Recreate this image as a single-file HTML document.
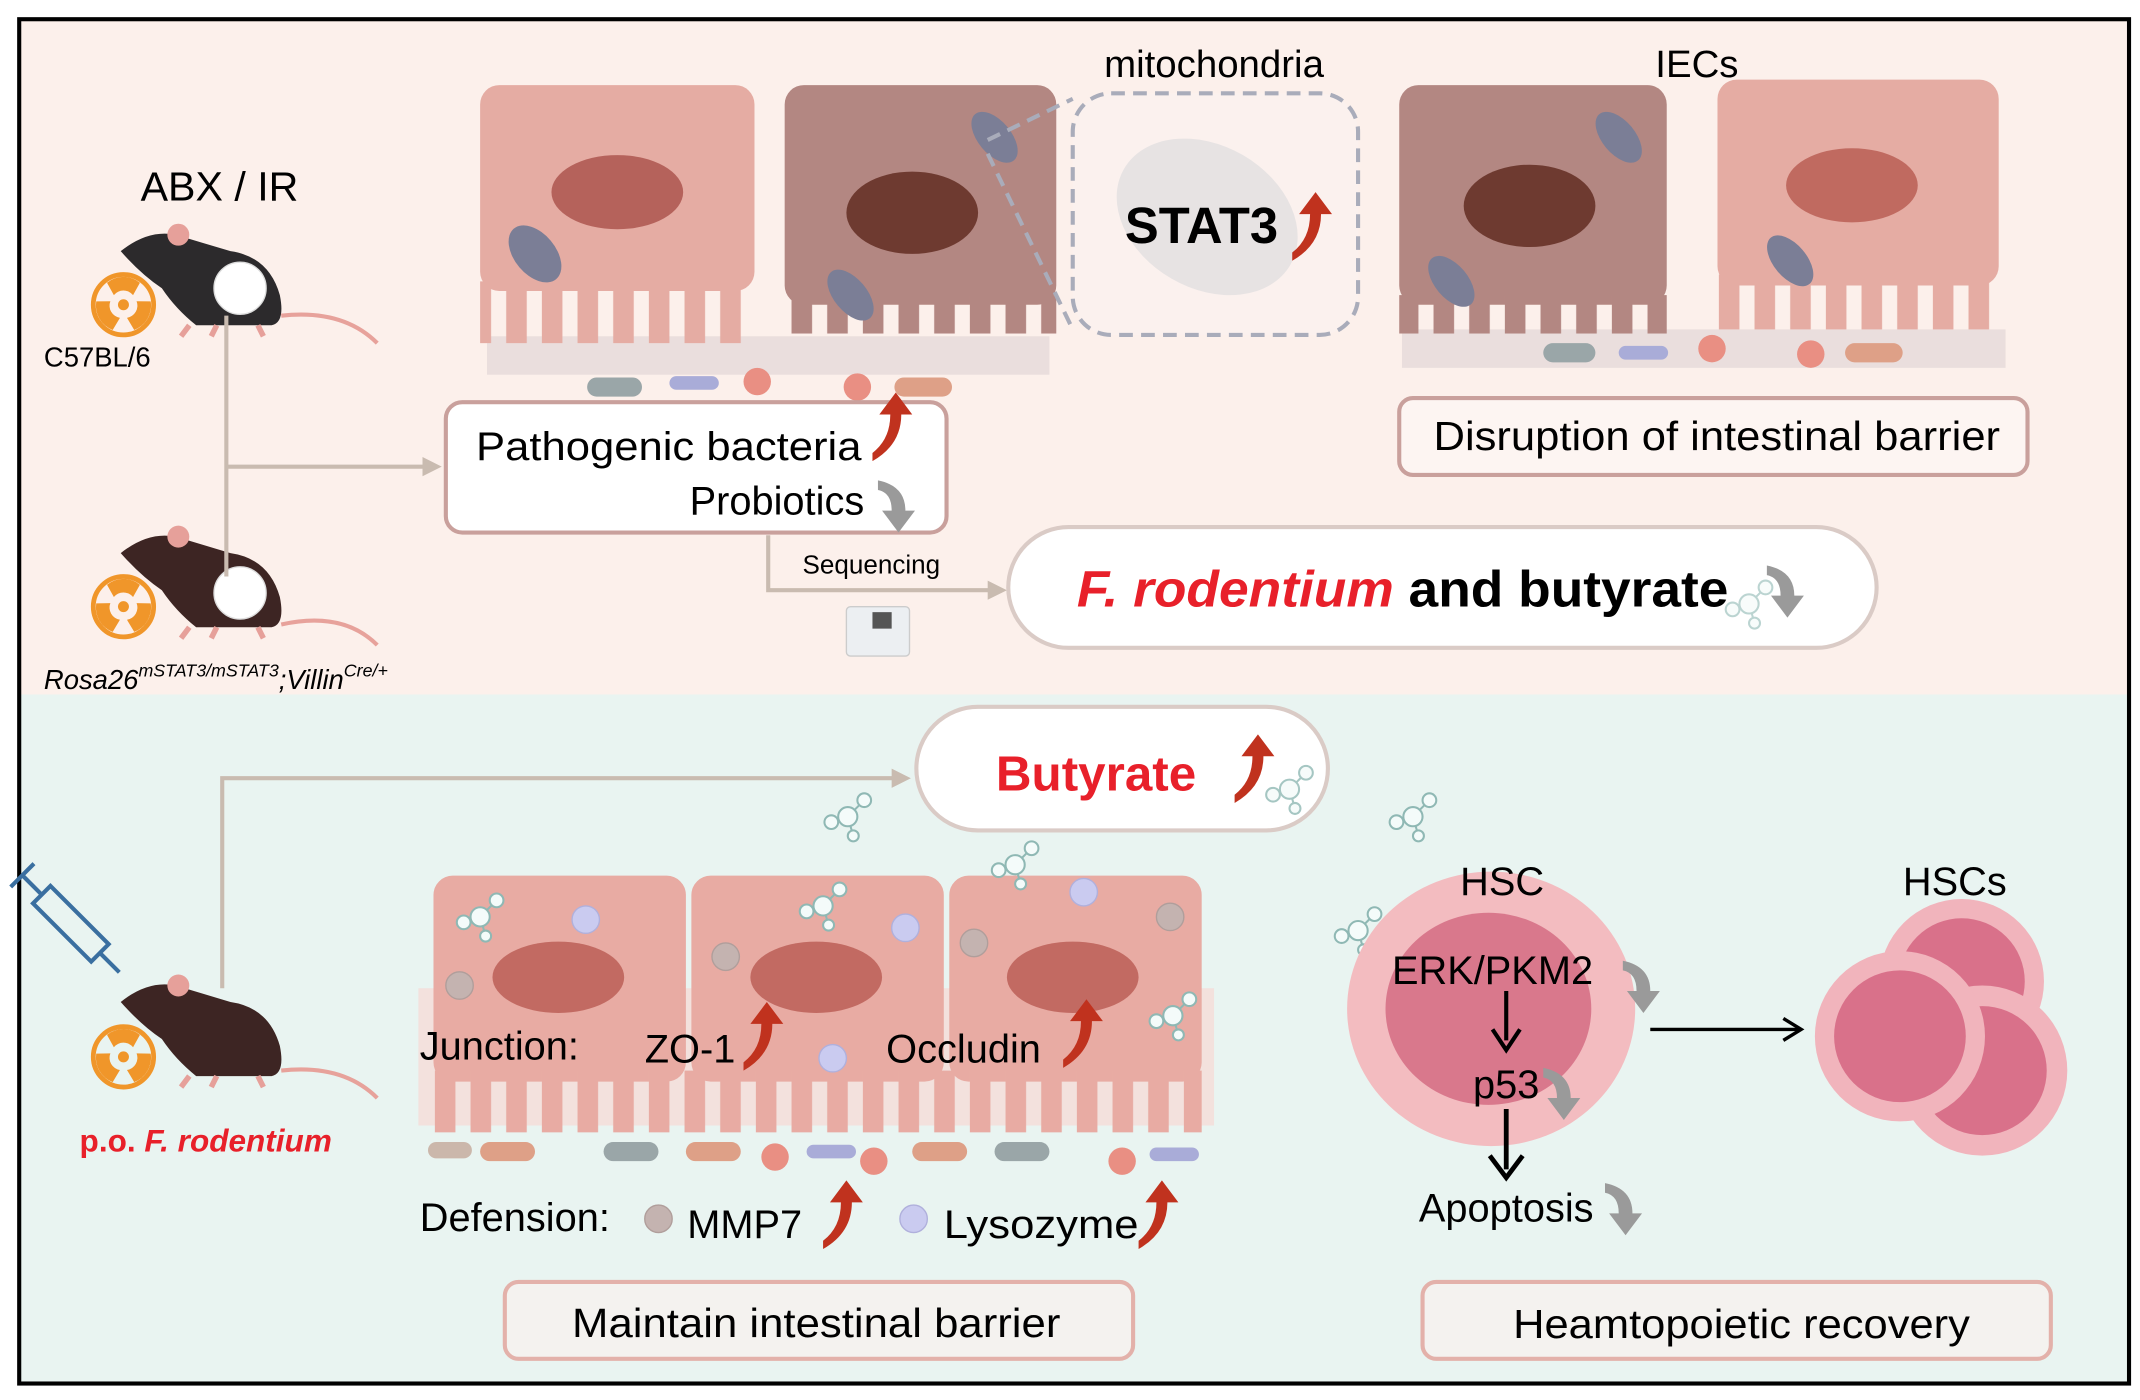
<!DOCTYPE html>
<html><head><meta charset="utf-8"><style>
html,body{margin:0;padding:0;background:#fff;}
svg{display:block;}
text{font-family:"Liberation Sans",Arial,sans-serif;}
</style></head><body>
<svg width="2140" height="1400" viewBox="0 0 1560 1020" preserveAspectRatio="none" xmlns="http://www.w3.org/2000/svg">
<defs>
<pattern id="vp" x="0" y="0" width="26" height="2000" patternUnits="userSpaceOnUse"><rect x="5" y="0" width="15" height="2000" fill="#e5aca3"/></pattern>
<pattern id="vb" x="0" y="0" width="26" height="2000" patternUnits="userSpaceOnUse"><rect x="5" y="0" width="15" height="2000" fill="#b38782"/></pattern>
<pattern id="vq" x="0" y="0" width="26" height="2000" patternUnits="userSpaceOnUse"><rect x="5" y="0" width="15" height="2000" fill="#e8aba3"/></pattern>
<g id="ru"><path d="M0,34 Q13,24 13,6 L5,6 L17,-10 L29,6 L21,6 Q21,28 0,40 Z" fill="#c0321e"/></g>
<g id="gd"><path d="M0,0 Q20,4 20,22 L27,22 L15,38 L3,22 L10,22 Q10,9 0,7 Z" fill="#9a9a9a"/></g>
<g id="rad"><circle r="22" fill="none" stroke="#f0962a" stroke-width="3.5"/><circle r="4" fill="#f0962a"/>
<path d="M-7,-7 L-12,-16 A19,19 0 0 1 12,-16 L7,-7 A9,9 0 0 0 -7,-7Z" fill="#f0962a"/>
<path d="M-7,-7 L-12,-16 A19,19 0 0 1 12,-16 L7,-7 A9,9 0 0 0 -7,-7Z" fill="#f0962a" transform="rotate(120)"/>
<path d="M-7,-7 L-12,-16 A19,19 0 0 1 12,-16 L7,-7 A9,9 0 0 0 -7,-7Z" fill="#f0962a" transform="rotate(240)"/></g>
<g id="mol" fill="#f4fbfa" stroke="#8fb8b4" stroke-width="1.5"><line x1="0" y1="0" x2="12" y2="-12"/><line x1="0" y1="0" x2="-12" y2="4"/><line x1="0" y1="0" x2="4" y2="14"/><circle r="7"/><circle cx="12" cy="-12" r="5"/><circle cx="-12" cy="4" r="5"/><circle cx="4" cy="14" r="4"/></g>
<g id="mouse"><path d="M0,18 Q20,2 40,6 Q60,12 80,18 Q108,22 116,50 Q120,70 110,72 L55,72 Q40,60 30,45 Q15,35 0,18Z"/><circle cx="42" cy="6" r="8" fill="#e6a09a"/><path d="M50,72 l-6,8 M70,72 l-4,8 M100,72 l4,8" stroke="#e6a09a" stroke-width="4"/></g>
</defs>
<rect x="0" y="0" width="1560" height="1020" fill="#fff"/>
<rect x="14" y="14" width="1538" height="492" fill="#fcf0eb"/>
<rect x="14" y="506" width="1538" height="502" fill="#e9f4f1"/>
<rect x="14" y="14" width="1538" height="994" fill="none" stroke="#000" stroke-width="3"/>

<!-- top cells -->
<rect x="355" y="245" width="410" height="28" fill="#ddd2d4" opacity="0.6"/>
<rect x="1022" y="240" width="440" height="28" fill="#ddd2d4" opacity="0.6"/>
<rect x="350" y="62" width="200" height="150" rx="14" fill="#e5aca3"/>
<rect x="350" y="205" width="200" height="45" fill="url(#vp)"/>
<ellipse cx="450" cy="140" rx="48" ry="27" fill="#b5625b"/>
<ellipse cx="390" cy="185" rx="15" ry="24" fill="#7b7e96" transform="rotate(-40 390 185)"/>
<rect x="572" y="62" width="198" height="160" rx="14" fill="#b38782"/>
<rect x="572" y="215" width="198" height="28" fill="url(#vb)"/>
<ellipse cx="665" cy="155" rx="48" ry="30" fill="#6e3a30"/>
<ellipse cx="725" cy="100" rx="12" ry="22" fill="#7b7e96" transform="rotate(-40 725 100)"/>
<ellipse cx="620" cy="215" rx="12" ry="22" fill="#7b7e96" transform="rotate(-40 620 215)"/>
<rect x="1020" y="62" width="195" height="160" rx="14" fill="#b38782"/>
<rect x="1020" y="215" width="195" height="28" fill="url(#vb)"/>
<ellipse cx="1115" cy="150" rx="48" ry="30" fill="#6e3a30"/>
<ellipse cx="1180" cy="100" rx="12" ry="22" fill="#7b7e96" transform="rotate(-40 1180 100)"/>
<ellipse cx="1058" cy="205" rx="12" ry="22" fill="#7b7e96" transform="rotate(-40 1058 205)"/>
<rect x="1252" y="58" width="205" height="150" rx="14" fill="#e5aca3"/>
<rect x="1252" y="200" width="205" height="40" fill="url(#vp)"/>
<ellipse cx="1350" cy="135" rx="48" ry="27" fill="#c06a60"/>
<ellipse cx="1305" cy="190" rx="12" ry="22" fill="#7b7e96" transform="rotate(-40 1305 190)"/>
<!-- bacteria top -->
<rect x="428" y="275" width="40" height="14" rx="7" fill="#9aa6a8"/>
<rect x="488" y="274" width="36" height="10" rx="5" fill="#a9acd8"/>
<circle cx="552" cy="278" r="10" fill="#e98f83"/>
<circle cx="625" cy="282" r="10" fill="#e98f83"/>
<rect x="652" y="275" width="42" height="14" rx="7" fill="#dea087"/>
<rect x="1125" y="250" width="38" height="14" rx="7" fill="#9aa6a8"/>
<rect x="1180" y="252" width="36" height="10" rx="5" fill="#a9acd8"/>
<circle cx="1248" cy="254" r="10" fill="#e98f83"/>
<circle cx="1320" cy="258" r="10" fill="#e98f83"/>
<rect x="1345" y="250" width="42" height="14" rx="7" fill="#dea087"/>
<!-- mitochondria box -->
<rect x="782" y="68" width="208" height="176" rx="28" fill="#fbf1ee" stroke="#a9acba" stroke-width="3" stroke-dasharray="10,6"/>
<line x1="720" y1="102" x2="782" y2="72" stroke="#a9acba" stroke-width="3" stroke-dasharray="10,6"/>
<line x1="720" y1="112" x2="782" y2="240" stroke="#a9acba" stroke-width="3" stroke-dasharray="10,6"/>
<ellipse cx="880" cy="158" rx="70" ry="52" fill="#e7e3e3" transform="rotate(30 880 158)"/>
<text x="885" y="56" font-size="28" text-anchor="middle">mitochondria</text>
<text x="820" y="177" font-size="37" font-weight="bold">STAT3</text>
<use href="#ru" x="942" y="150"/>
<text x="1237" y="56" font-size="28" text-anchor="middle">IECs</text>

<!-- mice & left -->
<text x="160" y="146" font-size="30" text-anchor="middle">ABX / IR</text>
<use href="#mouse" x="88" y="165" fill="#2c2a2c"/>
<path d="M205,230 Q250,225 275,250" stroke="#e7a29b" stroke-width="3" fill="none"/>
<circle cx="175" cy="210" r="19" fill="#fff" stroke="#ddd"/>
<use href="#rad" x="90" y="222"/>
<text x="32" y="267" font-size="20">C57BL/6</text>
<use href="#mouse" x="88" y="385" fill="#3d2523"/>
<path d="M205,455 Q250,445 275,470" stroke="#e7a29b" stroke-width="3" fill="none"/>
<circle cx="175" cy="432" r="19" fill="#fff" stroke="#ddd"/>
<use href="#rad" x="90" y="442"/>
<text x="32" y="502" font-size="20" font-style="italic">Rosa26<tspan font-size="13" dy="-9">mSTAT3/mSTAT3</tspan><tspan dy="9">;Villin</tspan><tspan font-size="13" dy="-9">Cre/+</tspan></text>
<line x1="165" y1="230" x2="165" y2="420" stroke="#c9bbb0" stroke-width="3"/>
<line x1="165" y1="340" x2="310" y2="340" stroke="#c9bbb0" stroke-width="3"/>
<path d="M308,333 L322,340 L308,347Z" fill="#c9bbb0"/>

<rect x="325" y="293" width="365" height="95" rx="12" fill="#fff" stroke="#c9a09c" stroke-width="3"/>
<text x="347" y="335" font-size="29" textLength="281" lengthAdjust="spacingAndGlyphs">Pathogenic bacteria</text>
<use href="#ru" x="636" y="296"/>
<text x="630" y="375" font-size="29" text-anchor="end">Probiotics</text>
<use href="#gd" x="640" y="350"/>
<polyline points="560,390 560,430 722,430" fill="none" stroke="#c9bbb0" stroke-width="3"/>
<path d="M720,423 L734,430 L720,437Z" fill="#c9bbb0"/>
<text x="585" y="418" font-size="19">Sequencing</text>
<rect x="617" y="442" width="46" height="36" rx="3" fill="#eceff2" stroke="#ccc"/>
<rect x="636" y="446" width="14" height="12" fill="#555"/>

<rect x="1020" y="290" width="458" height="56" rx="10" fill="#fdf5f2" stroke="#c9a09c" stroke-width="3"/>
<text x="1045" y="328" font-size="30" textLength="413" lengthAdjust="spacingAndGlyphs">Disruption of intestinal barrier</text>

<rect x="735" y="384" width="633" height="88" rx="44" fill="#fff" stroke="#dacbc6" stroke-width="3"/>
<text x="785" y="442" font-size="37" font-weight="bold" textLength="475" lengthAdjust="spacingAndGlyphs"><tspan fill="#e8202a" font-style="italic">F. rodentium</tspan> and butyrate</text>
<use href="#mol" x="1275" y="440" opacity="0.6"/>
<use href="#gd" x="1288" y="412"/>

<!-- bottom -->
<polyline points="162,720 162,567 652,567" fill="none" stroke="#c9bbb0" stroke-width="3"/>
<path d="M650,560 L664,567 L650,574Z" fill="#c9bbb0"/>
<rect x="668" y="515" width="300" height="90" rx="45" fill="#fff" stroke="#dacbc6" stroke-width="3"/>
<text x="726" y="576" font-size="36" font-weight="bold" fill="#e8202a">Butyrate</text>
<use href="#ru" x="900" y="545"/>
<use href="#mol" x="940" y="575" opacity="0.8"/>
<use href="#mol" x="618" y="595"/>
<use href="#mol" x="1030" y="595"/>
<use href="#mol" x="990" y="678"/>

<!-- syringe -->
<g transform="rotate(-45 58 678)"><rect x="48" y="640" width="18" height="60" fill="none" stroke="#3a6fa0" stroke-width="3"/><line x1="57" y1="700" x2="57" y2="720" stroke="#3a6fa0" stroke-width="3"/><line x1="57" y1="620" x2="57" y2="640" stroke="#3a6fa0" stroke-width="3"/><line x1="45" y1="620" x2="69" y2="620" stroke="#3a6fa0" stroke-width="3"/></g>
<use href="#mouse" x="88" y="712" fill="#3d2523"/>
<path d="M205,780 Q250,775 275,800" stroke="#e7a29b" stroke-width="3" fill="none"/>
<use href="#rad" x="90" y="770"/>
<text x="58" y="839" font-size="23" font-weight="bold" fill="#e8202a">p.o.  <tspan font-style="italic">F. rodentium</tspan></text>

<!-- bottom cells -->
<rect x="305" y="720" width="580" height="100" fill="#f6d8d4" opacity="0.7"/>
<rect x="316" y="638" width="184" height="150" rx="14" fill="#e8aba3"/>
<rect x="504" y="638" width="184" height="150" rx="14" fill="#e8aba3"/>
<rect x="692" y="638" width="184" height="150" rx="14" fill="#e8aba3"/>
<rect x="316" y="780" width="560" height="45" fill="url(#vq)"/>
<ellipse cx="407" cy="712" rx="48" ry="26" fill="#c26a62"/>
<ellipse cx="595" cy="712" rx="48" ry="26" fill="#c26a62"/>
<ellipse cx="782" cy="712" rx="48" ry="26" fill="#c26a62"/>
<circle cx="427" cy="670" r="10" fill="#cacbf0" stroke="#b0b0dc"/>
<circle cx="660" cy="676" r="10" fill="#cacbf0" stroke="#b0b0dc"/>
<circle cx="790" cy="650" r="10" fill="#cacbf0" stroke="#b0b0dc"/>
<circle cx="607" cy="771" r="10" fill="#cacbf0" stroke="#b0b0dc"/>
<circle cx="335" cy="718" r="10" fill="#c4b3b0" stroke="#b09e9b"/>
<circle cx="529" cy="697" r="10" fill="#c4b3b0" stroke="#b09e9b"/>
<circle cx="710" cy="687" r="10" fill="#c4b3b0" stroke="#b09e9b"/>
<circle cx="853" cy="668" r="10" fill="#c4b3b0" stroke="#b09e9b"/>
<use href="#mol" x="350" y="668"/><use href="#mol" x="600" y="660"/><use href="#mol" x="740" y="630"/><use href="#mol" x="855" y="740"/>
<text x="306" y="772" font-size="29">Junction:</text>
<text x="470" y="774" font-size="29">ZO-1</text>
<use href="#ru" x="542" y="740"/>
<text x="646" y="774" font-size="29">Occludin</text>
<use href="#ru" x="775" y="738"/>
<!-- bacteria row -->
<rect x="312" y="832" width="32" height="12" rx="6" fill="#cbb7ab"/>
<rect x="350" y="832" width="40" height="14" rx="7" fill="#dea087"/>
<rect x="440" y="832" width="40" height="14" rx="7" fill="#9aa6a8"/>
<rect x="500" y="832" width="40" height="14" rx="7" fill="#dea087"/>
<circle cx="565" cy="843" r="10" fill="#e98f83"/>
<rect x="588" y="834" width="36" height="10" rx="5" fill="#a9acd8"/>
<circle cx="637" cy="846" r="10" fill="#e98f83"/>
<rect x="665" y="832" width="40" height="14" rx="7" fill="#dea087"/>
<rect x="725" y="832" width="40" height="14" rx="7" fill="#9aa6a8"/>
<circle cx="818" cy="846" r="10" fill="#e98f83"/>
<rect x="838" y="836" width="36" height="10" rx="5" fill="#a9acd8"/>
<text x="306" y="897" font-size="29">Defension:</text>
<circle cx="480" cy="888" r="10" fill="#c4b3b0" stroke="#b09e9b"/>
<text x="501" y="902" font-size="29">MMP7</text>
<use href="#ru" x="600" y="870"/>
<circle cx="666" cy="888" r="10" fill="#cacbf0" stroke="#b0b0dc"/>
<text x="688" y="902" font-size="29" textLength="142" lengthAdjust="spacingAndGlyphs">Lysozyme</text>
<use href="#ru" x="830" y="870"/>
<rect x="368" y="934" width="458" height="56" rx="10" fill="#f4f2ef" stroke="#e3b1aa" stroke-width="3"/>
<text x="417" y="974" font-size="30" textLength="356" lengthAdjust="spacingAndGlyphs">Maintain intestinal barrier</text>
<rect x="1037" y="934" width="458" height="56" rx="10" fill="#f4f2ef" stroke="#e3b1aa" stroke-width="3"/>
<text x="1103" y="975" font-size="30" textLength="333" lengthAdjust="spacingAndGlyphs">Heamtopoietic recovery</text>

<!-- HSC -->
<ellipse cx="1087" cy="735" rx="105" ry="100" fill="#f3bcc0"/>
<ellipse cx="1085" cy="735" rx="75" ry="70" fill="#d9788c"/>
<text x="1095" y="652" font-size="29" text-anchor="middle">HSC</text>
<text x="1088" y="717" font-size="29" text-anchor="middle">ERK/PKM2</text>
<use href="#gd" x="1183" y="700"/>
<line x1="1098" y1="722" x2="1098" y2="758" stroke="#000" stroke-width="3"/>
<path d="M1088,750 L1098,765 L1108,750" fill="none" stroke="#000" stroke-width="3"/>
<text x="1098" y="800" font-size="29" text-anchor="middle">p53</text>
<use href="#gd" x="1125" y="778"/>
<line x1="1098" y1="808" x2="1098" y2="852" stroke="#000" stroke-width="3.5"/>
<path d="M1086,842 L1098,858 L1110,842" fill="none" stroke="#000" stroke-width="3.5"/>
<text x="1098" y="890" font-size="29" text-anchor="middle">Apoptosis</text>
<use href="#gd" x="1170" y="862"/>
<line x1="1203" y1="750" x2="1312" y2="750" stroke="#000" stroke-width="2.5"/>
<path d="M1300,742 L1313,750 L1300,758" fill="none" stroke="#000" stroke-width="2.5"/>
<text x="1425" y="652" font-size="29" text-anchor="middle">HSCs</text>
<circle cx="1430" cy="715" r="60" fill="#f1b4bc"/><circle cx="1430" cy="715" r="46" fill="#d9718a"/>
<circle cx="1445" cy="780" r="62" fill="#f1b4bc"/><circle cx="1445" cy="780" r="47" fill="#d9718a"/>
<circle cx="1385" cy="755" r="62" fill="#f1b4bc"/><circle cx="1385" cy="755" r="48" fill="#d9718a"/>
</svg>
</body></html>
